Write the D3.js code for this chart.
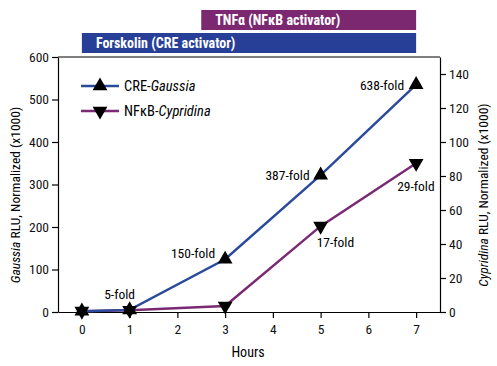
<!DOCTYPE html>
<html><head><meta charset="utf-8">
<script src="https://cdn.jsdelivr.net/npm/d3@7"></script>
<style>
body{margin:0;background:#fff;}
svg{display:block;}
text{font-family:"Liberation Sans Narrow","Roboto Condensed","Liberation Sans",Arial,sans-serif;}
</style></head>
<body>
<svg id="chart" width="497" height="366"></svg>
<script>
const hours = [0, 1, 3, 5, 7];
const gaussia = [2, 5, 124, 322, 535];
const cypridina = [0.5, 1, 3.5, 50.5, 87.5];
const xTicks = [0, 1, 2, 3, 4, 5, 6, 7];
const leftTicks = [0, 100, 200, 300, 400, 500, 600];
const rightTicks = [0, 20, 40, 60, 80, 100, 120, 140];
const gaussiaLabels = ["", "5-fold", "150-fold", "387-fold", "638-fold"];
const cypridinaLabels = ["", "", "", "17-fold", "29-fold"];
const treatments = [
  {name: "Forskolin (CRE activator)", start: 0, end: 7, color: "#283f98"},
  {name: "TNF\u03b1 (NF\u03baB activator)", start: 2.5, end: 7, color: "#7b2870"}
];

const blue = "#2b4a9c", purple = "#7a2a72";
const svg = d3.select("#chart");
const L = 58, R = 440, T = 57, B = 312;
const x = d3.scaleLinear().domain([-0.5, 7.5]).range([L, R]);
const yL = d3.scaleLinear().domain([0, 600]).range([B, T]);
const yR = d3.scaleLinear().domain([0, 150]).range([B, T]);

// treatment bars
const bars = svg.append("g");
treatments.forEach((t, i) => {
  const yTop = i === 0 ? 33 : 10;
  bars.append("rect").attr("x", x(t.start)).attr("y", yTop)
    .attr("width", x(t.end) - x(t.start)).attr("height", 20).attr("fill", t.color);
  bars.append("text").attr("x", x(t.start) + 14).attr("y", yTop + 15)
    .attr("fill", "#fff").attr("font-weight", "bold").attr("font-size", 14)
    .text(t.name);
});

// frame top line
svg.append("line").attr("x1", L).attr("x2", R).attr("y1", T).attr("y2", T)
  .attr("stroke", "#000").attr("stroke-width", 1);

const axisStyle = g => {
  g.selectAll("path").attr("stroke", "#000").attr("stroke-width", 1.2);
  g.selectAll("line").attr("stroke", "#000").attr("stroke-width", 1.2);
  g.selectAll("text").attr("font-size", 13.5).attr("fill", "#111")
    .attr("font-family", '"Liberation Sans Narrow","Liberation Sans",Arial,sans-serif');
};

svg.append("g").attr("transform", `translate(0,${B})`)
  .call(d3.axisBottom(x).tickValues(xTicks).tickSize(6).tickSizeOuter(0).tickPadding(6))
  .call(axisStyle);
svg.append("g").attr("transform", `translate(${L},0)`)
  .call(d3.axisLeft(yL).tickValues(leftTicks).tickSize(6).tickSizeOuter(0).tickPadding(3))
  .call(axisStyle);
svg.append("g").attr("transform", `translate(${R},0)`)
  .call(d3.axisRight(yR).tickValues(rightTicks).tickSize(6).tickSizeOuter(0).tickPadding(3))
  .call(axisStyle);

// axis titles
svg.append("text").attr("x", 248).attr("y", 357).attr("text-anchor", "middle")
  .attr("font-size", 14).text("Hours");
const lt = svg.append("text").attr("transform", `translate(20,195) rotate(-90)`)
  .attr("text-anchor", "middle").attr("font-size", 13.5);
lt.append("tspan").attr("font-style", "italic").text("Gaussia");
lt.append("tspan").text(" RLU, Normalized (x1000)");
const rt = svg.append("text").attr("transform", `translate(488,195) rotate(-90)`)
  .attr("text-anchor", "middle").attr("font-size", 13.5);
rt.append("tspan").attr("font-style", "italic").text("Cypridina");
rt.append("tspan").text(" RLU, Normalized (x1000)");

// lines
const gData = hours.map((h, i) => ({h, v: gaussia[i], lab: gaussiaLabels[i]}));
const cData = hours.map((h, i) => ({h, v: cypridina[i], lab: cypridinaLabels[i]}));
svg.append("path").datum(cData).attr("fill", "none").attr("stroke", purple).attr("stroke-width", 2.5)
  .attr("d", d3.line().x(d => x(d.h)).y(d => yR(d.v)));
svg.append("path").datum(gData).attr("fill", "none").attr("stroke", blue).attr("stroke-width", 2.5)
  .attr("d", d3.line().x(d => x(d.h)).y(d => yL(d.v)));

const tri = d3.symbol().type(d3.symbolTriangle).size(95);
svg.selectAll(".cm").data(cData).enter().append("path")
  .attr("d", tri).attr("fill", "#000")
  .attr("transform", d => `translate(${x(d.h)},${yR(d.v)}) rotate(180)`);
svg.selectAll(".gm").data(gData).enter().append("path")
  .attr("d", tri).attr("fill", "#000")
  .attr("transform", d => `translate(${x(d.h)},${yL(d.v)})`);

// fold labels
const gOff = [[0,0,"end"],[-10,-11,"middle"],[-10,-1,"end"],[-11,5,"end"],[-12,5,"end"]];
svg.selectAll(".gl").data(gData).enter().append("text")
  .attr("x", (d, i) => x(d.h) + gOff[i][0]).attr("y", (d, i) => yL(d.v) + gOff[i][1])
  .attr("text-anchor", (d, i) => gOff[i][2])
  .attr("font-size", 13.5).text(d => d.lab);
const cOff = [[0,0],[0,0],[0,0],[-4,21],[-19,28]];
svg.selectAll(".cl").data(cData).enter().append("text")
  .attr("x", (d, i) => x(d.h) + cOff[i][0]).attr("y", (d, i) => yR(d.v) + cOff[i][1])
  .attr("text-anchor", "start")
  .attr("font-size", 13.5).text(d => d.lab);

// legend
const leg = [
  {label: ["CRE-", "Gaussia"], color: blue, rot: 0},
  {label: ["NF\u03baB-", "Cypridina"], color: purple, rot: 180}
];
leg.forEach((l, i) => {
  const yy = 86 + i * 25;
  svg.append("line").attr("x1", 81).attr("x2", 119).attr("y1", yy).attr("y2", yy)
    .attr("stroke", l.color).attr("stroke-width", 2.5);
  svg.append("path").attr("d", tri).attr("fill", "#000")
    .attr("transform", `translate(100,${yy}) rotate(${l.rot})`);
  const t = svg.append("text").attr("x", 124).attr("y", yy + 5).attr("font-size", 14.5);
  t.append("tspan").text(l.label[0]);
  t.append("tspan").attr("font-style", "italic").text(l.label[1]);
});
</script>
</body></html>
